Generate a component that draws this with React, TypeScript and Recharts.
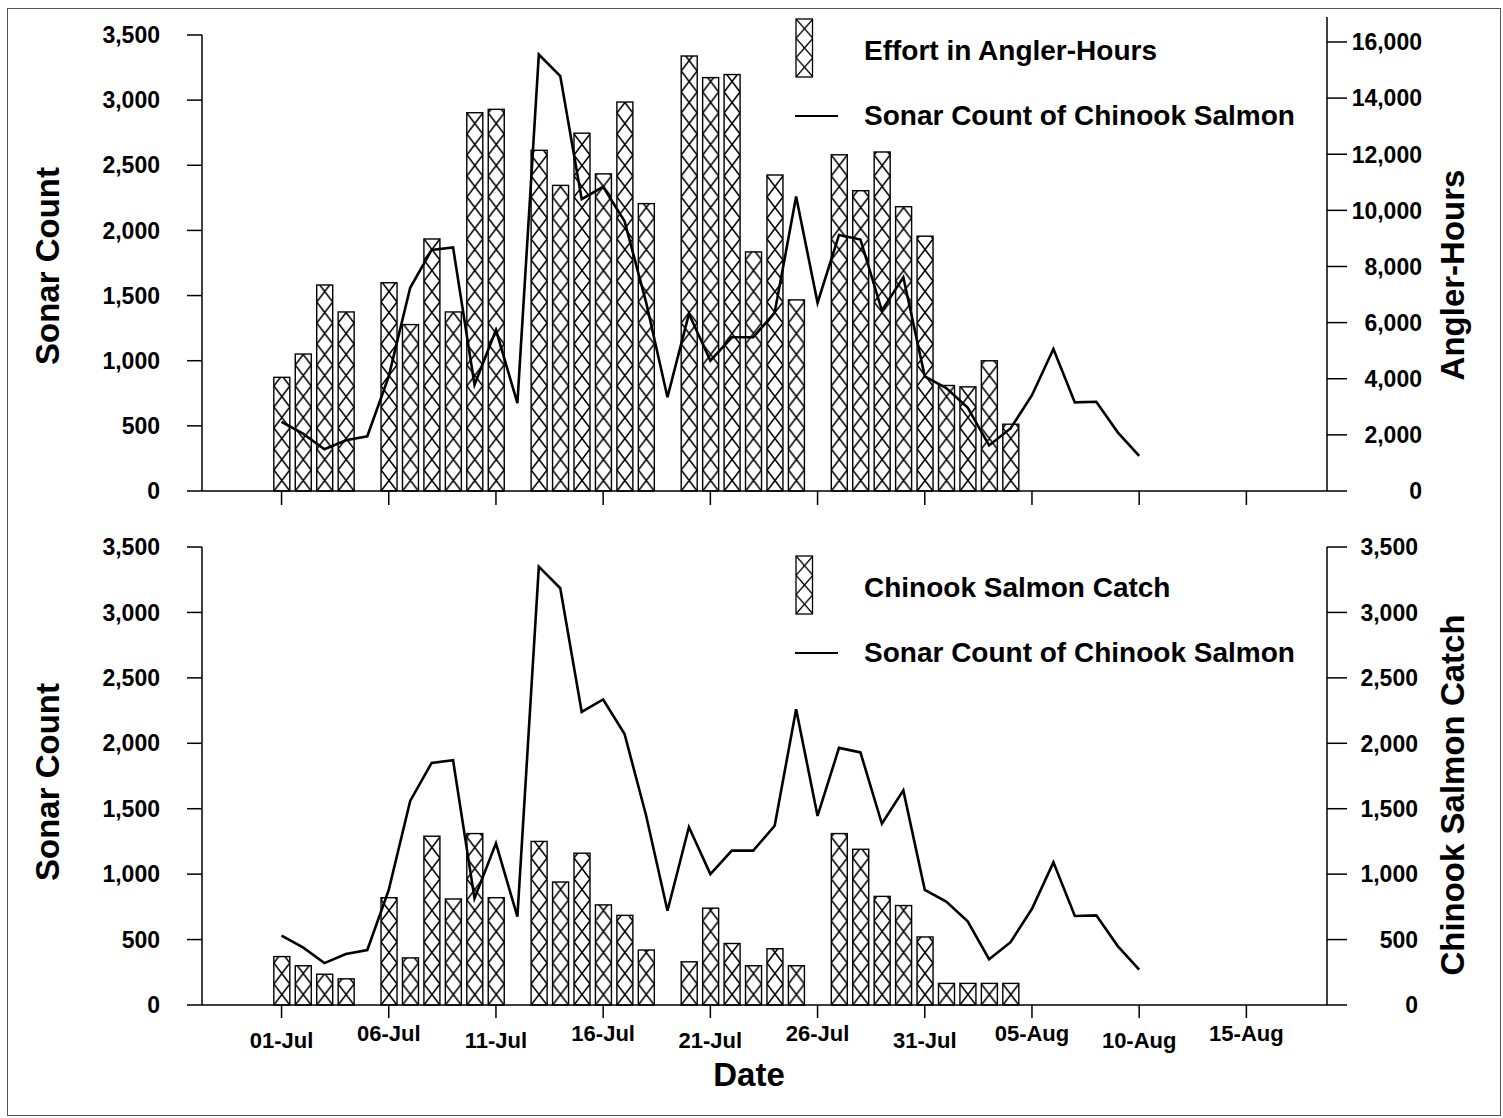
import { ComposedChart, Bar, Line, XAxis, YAxis, Legend, ReferenceLine } from 'recharts';

const dayLabels = [
  '01-Jul', '02-Jul', '03-Jul', '04-Jul', '05-Jul', '06-Jul', '07-Jul', '08-Jul', '09-Jul', '10-Jul',
  '11-Jul', '12-Jul', '13-Jul', '14-Jul', '15-Jul', '16-Jul', '17-Jul', '18-Jul', '19-Jul', '20-Jul',
  '21-Jul', '22-Jul', '23-Jul', '24-Jul', '25-Jul', '26-Jul', '27-Jul', '28-Jul', '29-Jul', '30-Jul',
  '31-Jul', '01-Aug', '02-Aug', '03-Aug', '04-Aug', '05-Aug', '06-Aug', '07-Aug', '08-Aug', '09-Aug',
  '10-Aug',
];

const sonarCount = [
  530, 440, 320, 390, 420, 880, 1560, 1850, 1870, 815,
  1235, 675, 3350, 3185, 2240, 2335, 2070, 1450, 720, 1360,
  1000, 1180, 1180, 1370, 2260, 1445, 1965, 1930, 1385, 1640,
  880, 790, 640, 350, 480, 735, 1090, 680, 685, 450,
  270,
];

const effortHours = [
  4050, 4880, 7340, 6380, null, 7420, 5930, 8980, 6380, 13480,
  13600, null, 12140, 10890, 12750, 11300, 13860, 10240, null, 15500,
  14730, 14840, 8520, 11260, 6810, null, 11980, 10700, 12080, 10130,
  9080, 3760, 3710, 4640, 2380, null, null, null, null, null,
  null,
];

const salmonCatch = [
  370, 300, 235, 200, null, 820, 360, 1290, 810, 1310,
  820, null, 1250, 940, 1160, 765, 685, 420, null, 330,
  740, 470, 300, 430, 300, null, 1310, 1190, 830, 760,
  520, 165, 165, 165, 165, null, null, null, null, null,
  null,
];

const tickDays = [0, 5, 10, 15, 20, 25, 30, 35, 40, 45];
const tickLabels = ['01-Jul', '06-Jul', '11-Jul', '16-Jul', '21-Jul', '26-Jul', '31-Jul', '05-Aug', '10-Aug', '15-Aug'];
const sonarTicks = [0, 500, 1000, 1500, 2000, 2500, 3000, 3500];
const effortTicks = [0, 2000, 4000, 6000, 8000, 10000, 12000, 14000, 16000];
const catchTicks = [0, 500, 1000, 1500, 2000, 2500, 3000, 3500];

const effortData = dayLabels.map((date, i) => ({ day: i, date, sonar: sonarCount[i], effort: effortHours[i] }));
const catchData = dayLabels.map((date, i) => ({ day: i, date, sonar: sonarCount[i], catch: salmonCatch[i] }));

const FONT = "'Liberation Sans', Arial, Helvetica, sans-serif";
const X_DOMAIN: [number, number] = [-3.71, 48.76];
const HATCH = 21;

const fmt = (v: number) => v.toLocaleString('en-US');

function hatchBar(prefix: string) {
  return (props: any) => {
    const { x, y, width, height, index } = props;
    if (!height || height < 1) return <g />;
    const id = `hatch-${prefix}-${index}`;
    return (
      <g>
        <defs>
          <pattern id={id} patternUnits="userSpaceOnUse" x={x} y={y + height} width={width} height={HATCH}>
            <rect x={0} y={0} width={width} height={HATCH} fill="#fff" />
            <path d={`M0,0 L${width},${HATCH} M${width},0 L0,${HATCH}`} stroke="#000" strokeWidth={1.6} />
          </pattern>
        </defs>
        <rect x={x} y={y} width={width} height={height} fill={`url(#${id})`} stroke="#000" strokeWidth={1.4} />
      </g>
    );
  };
}

function vTitle(text: string, cx: number, cy: number) {
  return () => (
    <text
      x={cx}
      y={cy}
      transform={`rotate(-90 ${cx} ${cy})`}
      textAnchor="middle"
      dominantBaseline="central"
      fontFamily={FONT}
      fontWeight="bold"
      fontSize={33}
      fill="#000"
    >
      {text}
    </text>
  );
}

function rightTick(shift: number) {
  return (props: any) => {
    const { x, y, payload } = props;
    return (
      <text x={x + shift} y={y} dy="0.36em" textAnchor="end" fontFamily={FONT} fontWeight="bold" fontSize={23} fill="#000">
        {fmt(payload.value)}
      </text>
    );
  };
}

const DateTick = (props: any) => {
  const { x, y, payload, index } = props;
  const label = tickLabels[tickDays.indexOf(payload.value)];
  return (
    <text x={x} y={y + (index % 2 === 0 ? 28 : 21)} textAnchor="middle" fontFamily={FONT} fontWeight="bold" fontSize={22} fill="#000">
      {label}
    </text>
  );
};

function legendContent(prefix: string) {
  return (props: any) => {
    const { payload } = props;
    return (
      <div style={{ position: 'relative', width: 560, height: 140, fontFamily: FONT, fontWeight: 'bold', fontSize: 28, color: '#000' }}>
        {payload.map((entry: any, i: number) => {
          const centerY = 33 + i * 65;
          return (
            <div key={`leg-${i}`}>
              {entry.type === 'line' ? (
                <svg style={{ position: 'absolute', left: 0, top: centerY - 3 }} width={44} height={6}>
                  <line x1={0} y1={3} x2={43} y2={3} stroke="#000" strokeWidth={2.2} />
                </svg>
              ) : (
                <svg style={{ position: 'absolute', left: 0, top: 0 }} width={19} height={60}>
                  <defs>
                    <pattern id={`leg-${prefix}`} patternUnits="userSpaceOnUse" x={1} y={1} width={17} height={19.3}>
                      <rect x={0} y={0} width={17} height={19.3} fill="#fff" />
                      <path d="M0,0 L17,19.3 M17,0 L0,19.3" stroke="#000" strokeWidth={1.4} />
                    </pattern>
                  </defs>
                  <rect x={1} y={1} width={16.5} height={58} fill={`url(#leg-${prefix})`} stroke="#000" strokeWidth={1.3} />
                </svg>
              )}
              <div style={{ position: 'absolute', left: 69, top: centerY - 17, lineHeight: '34px', whiteSpace: 'nowrap' }}>
                {entry.value}
              </div>
            </div>
          );
        })}
      </div>
    );
  };
}

const axisTick = { fill: '#000', fontSize: 23, fontWeight: 'bold', fontFamily: FONT };
const axisStroke = { stroke: '#000', strokeWidth: 1.5 };

export default function App() {
  return (
    <div style={{ position: 'absolute', left: 0, top: 0, width: 1503, height: 1118, background: '#fff' }}>
      <div
        style={{
          position: 'absolute',
          left: 7,
          top: 8,
          width: 1492,
          height: 1106,
          border: '1px solid #555',
        }}
      />

      <div style={{ position: 'absolute', left: 0, top: 0 }}>
        <ComposedChart width={1503} height={520} data={effortData} margin={{ top: 17, right: 0, bottom: 0, left: 0 }}>
          <XAxis
            dataKey="day"
            type="number"
            domain={X_DOMAIN}
            allowDataOverflow
            ticks={tickDays}
            tick={() => <g />}
            tickSize={14}
            height={29}
            axisLine={axisStroke}
            tickLine={axisStroke}
          />
          <YAxis
            yAxisId="left"
            orientation="left"
            width={202}
            domain={[0, 3638]}
            ticks={sonarTicks}
            tickFormatter={fmt}
            tick={axisTick}
            tickSize={15}
            tickMargin={27}
            axisLine={false}
            tickLine={axisStroke}
            label={vTitle('Sonar Count', 47, 266)}
          />
          <YAxis
            yAxisId="right"
            orientation="right"
            width={176}
            domain={[0, 16890]}
            ticks={effortTicks}
            tick={rightTick(73)}
            tickSize={20}
            axisLine={axisStroke}
            tickLine={axisStroke}
            label={vTitle('Angler-Hours', 1452, 275)}
          />
          <ReferenceLine
            yAxisId="left"
            segment={[{ x: X_DOMAIN[0], y: 0 }, { x: X_DOMAIN[0], y: 3500 }]}
            stroke="#000"
            strokeWidth={1.5}
            ifOverflow="visible"
          />
          <Bar
            yAxisId="right"
            dataKey="effort"
            name="Effort in Angler-Hours"
            barSize={16}
            shape={hatchBar('effort')}
            isAnimationActive={false}
          />
          <Line
            yAxisId="left"
            dataKey="sonar"
            name="Sonar Count of Chinook Salmon"
            type="linear"
            stroke="#000"
            strokeWidth={2.6}
            dot={false}
            isAnimationActive={false}
          />
          <Legend
            layout="vertical"
            align="center"
            verticalAlign="middle"
            content={legendContent('effort')}
            wrapperStyle={{ position: 'absolute', left: 795, top: 18, width: 560 }}
          />
        </ComposedChart>
      </div>

      <div style={{ position: 'absolute', left: 0, top: 530 }}>
        <ComposedChart width={1503} height={588} data={catchData} margin={{ top: 17, right: 0, bottom: 0, left: 0 }}>
          <XAxis
            dataKey="day"
            type="number"
            domain={X_DOMAIN}
            allowDataOverflow
            ticks={tickDays}
            tick={DateTick}
            tickSize={13}
            tickMargin={2}
            height={113}
            axisLine={axisStroke}
            tickLine={axisStroke}
            label={() => (
              <text x={749} y={1086 - 530} textAnchor="middle" fontFamily={FONT} fontWeight="bold" fontSize={33} fill="#000">
                Date
              </text>
            )}
          />
          <YAxis
            yAxisId="left"
            orientation="left"
            width={202}
            domain={[0, 3500]}
            ticks={sonarTicks}
            tickFormatter={fmt}
            tick={axisTick}
            tickSize={15}
            tickMargin={27}
            axisLine={axisStroke}
            tickLine={axisStroke}
            label={vTitle('Sonar Count', 47, 782 - 530)}
          />
          <YAxis
            yAxisId="right"
            orientation="right"
            width={176}
            domain={[0, 3500]}
            ticks={catchTicks}
            tick={rightTick(69)}
            tickSize={20}
            axisLine={axisStroke}
            tickLine={axisStroke}
            label={vTitle('Chinook Salmon Catch', 1452, 795 - 530)}
          />
          <Bar
            yAxisId="right"
            dataKey="catch"
            name="Chinook Salmon Catch"
            barSize={16}
            shape={hatchBar('catch')}
            isAnimationActive={false}
          />
          <Line
            yAxisId="left"
            dataKey="sonar"
            name="Sonar Count of Chinook Salmon"
            type="linear"
            stroke="#000"
            strokeWidth={2.6}
            dot={false}
            isAnimationActive={false}
          />
          <Legend
            layout="vertical"
            align="center"
            verticalAlign="middle"
            content={legendContent('catch')}
            wrapperStyle={{ position: 'absolute', left: 795, top: 25, width: 560 }}
          />
        </ComposedChart>
      </div>
    </div>
  );
}
